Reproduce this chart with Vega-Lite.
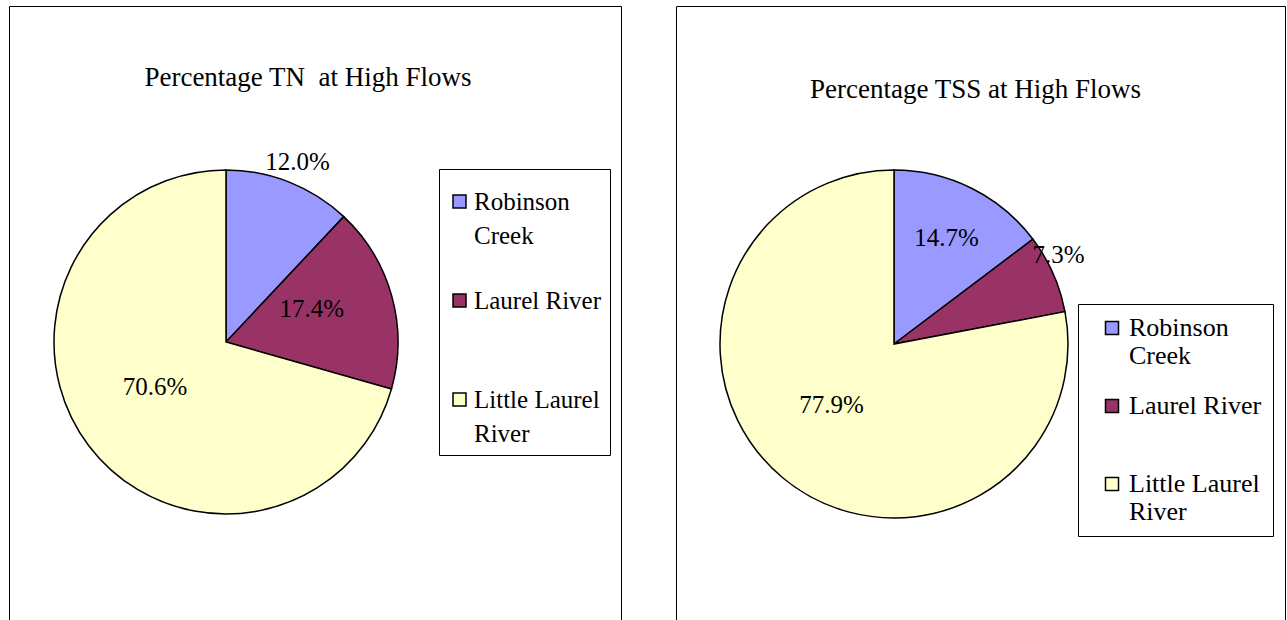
{
  "$schema": "https://vega.github.io/schema/vega-lite/v6.json",
  "padding": {"left": 8, "top": 5, "right": 0, "bottom": 0},
  "spacing": 53,
  "background": "white",
  "config": {
    "font": "Liberation Serif",
    "view": {"stroke": "black", "strokeWidth": 1},
    "title": {"font": "Liberation Serif", "fontSize": 27, "fontWeight": "normal", "color": "black", "anchor": "middle"},
    "text": {"font": "Liberation Serif", "fontSize": 25, "fill": "black"},
    "legend": {
      "orient": "none",
      "strokeColor": "black",
      "fillColor": "white",
      "symbolType": "square",
      "symbolSize": 169,
      "symbolStrokeColor": "black",
      "symbolStrokeWidth": 1.5,
      "labelFont": "Liberation Serif",
      "labelFontSize": 26,
      "labelColor": "black",
      "labelLimit": 300,
      "labelOffset": 4
    }
  },
  "resolve": {"scale": {"color": "independent"}, "legend": {"color": "independent"}},
  "hconcat": [
    {
      "width": 612,
      "height": 700,
      "view": {"stroke": "black", "strokeWidth": 1},
      "title": {"text": "Percentage TN\u00a0 at High Flows", "offset": -86, "dx": -7},
      "data": {"values": [
        {"site": "Robinson Creek", "share": 0.120},
        {"site": "Laurel River", "share": 0.174},
        {"site": "Little Laurel River", "share": 0.706}
      ]},
      "transform": [{"calculate": "indexof(['Robinson Creek', 'Laurel River', 'Little Laurel River'], datum.site)", "as": "rank"}],
      "encoding": {
        "theta": {"field": "share", "type": "quantitative", "stack": true},
        "order": {"field": "rank", "type": "quantitative"},
        "color": {
          "field": "site", "type": "nominal",
          "scale": {"domain": ["Robinson Creek", "Laurel River", "Little Laurel River"], "range": ["#9999FF", "#993366", "#FFFFCC"]},
          "legend": {
            "title": " ", "titleFontSize": 12, "titlePadding": 0,
            "legendX": 430, "legendY": 163, "padding": 8, "rowPadding": 39,
            "labelFontSize": 25, "labelOffset": 2,
            "labelExpr": "datum.label == 'Robinson Creek' ? ['Robinson', 'Creek'] : datum.label == 'Little Laurel River' ? ['Little Laurel', 'River'] : ['Laurel River', '']",
            "encode": {"labels": {"update": {"lineHeight": {"value": 34}}}}
          }
        }
      },
      "layer": [
        {"mark": {"type": "arc", "x": 217, "y": 336, "outerRadius": 172, "stroke": "black", "strokeWidth": 1.5}},
        {
          "mark": {"type": "text", "x": 217, "y": 336, "radius": 194},
          "encoding": {
            "text": {"condition": {"test": "datum.site === 'Robinson Creek'", "field": "share", "type": "quantitative", "format": ".1%"}, "value": ""},
            "color": {"value": "black"}
          }
        },
        {
          "mark": {"type": "text", "x": 217, "y": 336, "radius": 89, "dy": -9},
          "encoding": {
            "text": {"condition": {"test": "datum.site !== 'Robinson Creek'", "field": "share", "type": "quantitative", "format": ".1%"}, "value": ""},
            "color": {"value": "black"}
          }
        }
      ]
    },
    {
      "width": 609,
      "height": 700,
      "view": {"stroke": "black", "strokeWidth": 1},
      "title": {"text": "Percentage TSS at High Flows", "offset": -98, "dx": -5},
      "data": {"values": [
        {"site": "Robinson Creek", "share": 0.147},
        {"site": "Laurel River", "share": 0.073},
        {"site": "Little Laurel River", "share": 0.779}
      ]},
      "transform": [{"calculate": "indexof(['Robinson Creek', 'Laurel River', 'Little Laurel River'], datum.site)", "as": "rank"}],
      "encoding": {
        "theta": {"field": "share", "type": "quantitative", "stack": true},
        "order": {"field": "rank", "type": "quantitative"},
        "color": {
          "field": "site", "type": "nominal",
          "scale": {"domain": ["Robinson Creek", "Laurel River", "Little Laurel River"], "range": ["#9999FF", "#993366", "#FFFFCC"]},
          "legend": {
            "title": null, "legendX": 402, "legendY": 298, "padding": 11, "symbolOffset": 10, "rowPadding": 24,
            "labelExpr": "datum.label == 'Robinson Creek' ? ['Robinson', 'Creek'] : datum.label == 'Little Laurel River' ? ['Little Laurel', 'River'] : ['Laurel River', '']",
            "encode": {"labels": {"update": {"lineHeight": {"value": 28}}}}
          }
        }
      },
      "layer": [
        {"mark": {"type": "arc", "x": 218, "y": 338, "outerRadius": 174, "stroke": "black", "strokeWidth": 1.5}},
        {
          "mark": {"type": "text", "x": 218, "y": 338, "radius": 118},
          "encoding": {
            "text": {"condition": {"test": "datum.site === 'Robinson Creek'", "field": "share", "type": "quantitative", "format": ".1%"}, "value": ""},
            "color": {"value": "black"}
          }
        },
        {
          "mark": {"type": "text", "x": 218, "y": 338, "radius": 180, "dy": -16},
          "encoding": {
            "text": {"condition": {"test": "datum.site === 'Laurel River'", "field": "share", "type": "quantitative", "format": ".1%"}, "value": ""},
            "color": {"value": "black"}
          }
        },
        {
          "mark": {"type": "text", "x": 218, "y": 338, "radius": 98, "dy": -14},
          "encoding": {
            "text": {"condition": {"test": "datum.site === 'Little Laurel River'", "field": "share", "type": "quantitative", "format": ".1%"}, "value": ""},
            "color": {"value": "black"}
          }
        }
      ]
    }
  ]
}
